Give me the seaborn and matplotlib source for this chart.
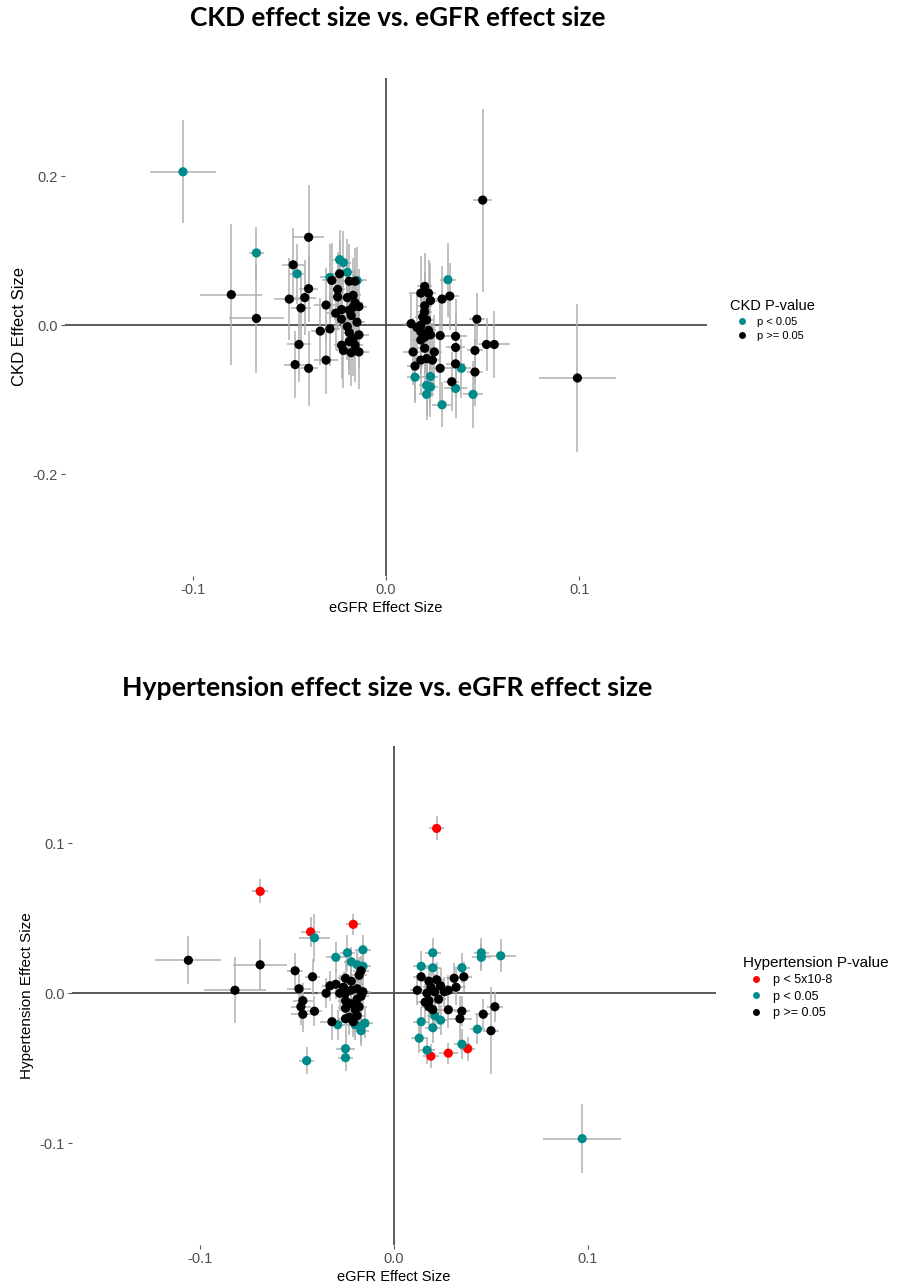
import seaborn as sns
from matplotlib import pyplot as plt
import pandas as pd

# ---- CKD vs eGFR ----
ckd_sig_x = [-0.105, -0.067, -0.046, -0.029, -0.024, -0.022, -0.020, -0.015, 0.032, 0.039,
             0.015, 0.023, 0.021, 0.023, 0.036, 0.021, 0.045, 0.029]
ckd_sig_y = [0.206, 0.097, 0.069, 0.064, 0.088, 0.084, 0.071, 0.060, 0.061, -0.058,
             -0.070, -0.069, -0.081, -0.083, -0.085, -0.093, -0.093, -0.107]
ckd_sig_xerr = [0.017, 0.004, 0.004, 0.005, 0.004, 0.004, 0.004, 0.005, 0.004, 0.005,
                0.004, 0.004, 0.004, 0.004, 0.006, 0.004, 0.005, 0.005]
ckd_sig_yerr = [0.069, 0.035, 0.040, 0.045, 0.040, 0.042, 0.045, 0.045, 0.050, 0.040,
                0.035, 0.040, 0.040, 0.040, 0.040, 0.035, 0.045, 0.030]

ckd_ns_x = [-0.080, -0.067, -0.040, -0.048, -0.040, -0.050, -0.042, -0.044, -0.031, -0.028,
            -0.024, -0.019, -0.016, -0.025, -0.025, -0.020, -0.017, -0.016, -0.014, -0.017,
            -0.023, -0.019, -0.026, -0.023, -0.018, -0.015, -0.034, -0.029, -0.020, -0.019,
            -0.014, -0.017, -0.019, -0.016, -0.023, -0.022, -0.018, -0.014, -0.045, -0.047,
            -0.040, -0.031,
            0.020, 0.018, 0.022, 0.029, 0.033, 0.023, 0.020, 0.020, 0.019, 0.021,
            0.047, 0.013, 0.016, 0.018, 0.022, 0.018, 0.023, 0.020, 0.018, 0.028,
            0.036, 0.036, 0.025, 0.020, 0.014, 0.021, 0.018, 0.024, 0.046, 0.052,
            0.056, 0.036, 0.015, 0.028, 0.046, 0.034, 0.050, 0.099]
ckd_ns_y = [0.041, 0.009, 0.118, 0.081, 0.049, 0.035, 0.037, 0.023, 0.027, 0.060,
            0.069, 0.059, 0.059, 0.048, 0.038, 0.037, 0.040, 0.030, 0.025, 0.024,
            0.021, 0.020, 0.016, 0.008, 0.013, 0.004, -0.008, -0.005, -0.002, -0.010,
            -0.013, -0.018, -0.022, -0.027, -0.027, -0.034, -0.037, -0.036, -0.026, -0.053,
            -0.058, -0.047,
            0.052, 0.043, 0.043, 0.035, 0.039, 0.033, 0.026, 0.018, 0.011, 0.007,
            0.008, 0.002, -0.003, 0.000, -0.007, -0.009, -0.013, -0.016, -0.020, -0.014,
            -0.015, -0.030, -0.036, -0.031, -0.036, -0.045, -0.047, -0.047, -0.034, -0.026,
            -0.026, -0.052, -0.055, -0.058, -0.063, -0.076, 0.168, -0.071]
ckd_ns_xerr = [0.016, 0.014, 0.008, 0.006, 0.005, 0.008, 0.006, 0.005, 0.006, 0.005,
               0.004, 0.005, 0.004, 0.004, 0.004, 0.004, 0.004, 0.004, 0.004, 0.005,
               0.004, 0.004, 0.005, 0.004, 0.004, 0.004, 0.005, 0.005, 0.004, 0.004,
               0.005, 0.004, 0.004, 0.004, 0.004, 0.004, 0.004, 0.005, 0.006, 0.006,
               0.005, 0.006,
               0.004, 0.006, 0.004, 0.005, 0.005, 0.004, 0.004, 0.004, 0.004, 0.004,
               0.004, 0.004, 0.004, 0.004, 0.004, 0.004, 0.004, 0.004, 0.004, 0.005,
               0.006, 0.005, 0.004, 0.004, 0.005, 0.004, 0.004, 0.004, 0.004, 0.004,
               0.008, 0.005, 0.004, 0.006, 0.004, 0.004, 0.005, 0.020]
ckd_ns_yerr = [0.095, 0.073, 0.070, 0.050, 0.045, 0.055, 0.050, 0.050, 0.050, 0.050,
               0.045, 0.050, 0.045, 0.050, 0.045, 0.050, 0.050, 0.045, 0.050, 0.045,
               0.050, 0.045, 0.050, 0.045, 0.050, 0.045, 0.045, 0.050, 0.045, 0.050,
               0.045, 0.050, 0.045, 0.050, 0.045, 0.050, 0.045, 0.050, 0.050, 0.045,
               0.050, 0.045,
               0.045, 0.050, 0.045, 0.045, 0.045, 0.050, 0.045, 0.050, 0.045, 0.050,
               0.035, 0.040, 0.045, 0.050, 0.045, 0.050, 0.045, 0.050, 0.045, 0.045,
               0.050, 0.045, 0.050, 0.045, 0.045, 0.050, 0.045, 0.050, 0.045, 0.035,
               0.045, 0.045, 0.045, 0.050, 0.045, 0.040, 0.123, 0.099]

# ---- Hypertension vs eGFR ----
htn_gw_x = [-0.069, -0.043, -0.021, 0.022, 0.019, 0.028, 0.038]
htn_gw_y = [0.068, 0.041, 0.046, 0.110, -0.042, -0.040, -0.037]
htn_gw_xerr = [0.004, 0.005, 0.004, 0.004, 0.004, 0.005, 0.004]
htn_gw_yerr = [0.008, 0.010, 0.007, 0.008, 0.008, 0.007, 0.008]

htn_sig_x = [-0.041, -0.030, -0.024, -0.016, -0.022, -0.019, -0.016, -0.029, -0.020, -0.017,
             -0.015, -0.017, -0.045, -0.025, -0.025, 0.020, 0.045, 0.045, 0.055, 0.014,
             0.020, 0.035, 0.021, 0.024, 0.014, 0.020, 0.043, 0.013, 0.017, 0.035, 0.097]
htn_sig_y = [0.037, 0.024, 0.027, 0.029, 0.021, 0.019, 0.018, -0.021, -0.021, -0.022,
             -0.020, -0.025, -0.045, -0.037, -0.043, 0.027, 0.027, 0.024, 0.025, 0.018,
             0.017, 0.017, -0.015, -0.018, -0.019, -0.023, -0.024, -0.030, -0.038, -0.034,
             -0.097]
htn_sig_xerr = [0.008, 0.005, 0.004, 0.004, 0.004, 0.004, 0.004, 0.004, 0.004, 0.004,
                0.004, 0.004, 0.004, 0.005, 0.004, 0.004, 0.004, 0.005, 0.008, 0.004,
                0.004, 0.004, 0.004, 0.004, 0.004, 0.004, 0.004, 0.004, 0.004, 0.004, 0.020]
htn_sig_yerr = [0.016, 0.010, 0.012, 0.010, 0.010, 0.010, 0.009, 0.010, 0.010, 0.011,
                0.010, 0.010, 0.009, 0.009, 0.009, 0.010, 0.010, 0.009, 0.011, 0.010,
                0.010, 0.010, 0.010, 0.010, 0.010, 0.010, 0.010, 0.010, 0.009, 0.010, 0.023]

htn_ns_x = [-0.106, -0.082, -0.069, -0.051, -0.042, -0.049, -0.035, -0.047, -0.048, -0.047,
            -0.041, -0.032, -0.033, -0.030, -0.025, -0.022, -0.018, -0.017, -0.025, -0.022,
            -0.019, -0.016, -0.025, -0.022, -0.019, -0.017, -0.025, -0.020, -0.018, -0.023,
            -0.019, -0.025, -0.021, -0.028, -0.026,
            0.036, 0.031, 0.014, 0.032, 0.012, 0.018, 0.022, 0.019, 0.024, 0.017,
            0.021, 0.026, 0.018, 0.023, 0.018, 0.020, 0.016, 0.028, 0.028, 0.035,
            0.034, 0.046, 0.052, 0.050]
htn_ns_y = [0.022, 0.002, 0.019, 0.015, 0.011, 0.003, 0.000, -0.005, -0.009, -0.014,
            -0.012, -0.019, 0.005, 0.006, 0.010, 0.008, 0.012, 0.015, 0.000, 0.002,
            0.003, 0.001, -0.005, -0.007, -0.004, -0.002, -0.010, -0.011, -0.009, -0.016,
            -0.015, -0.017, -0.019, 0.000, 0.004,
            0.011, 0.010, 0.011, 0.004, 0.002, 0.008, 0.009, 0.004, 0.005, 0.000,
            0.001, 0.001, -0.005, -0.004, -0.009, -0.011, -0.006, 0.002, -0.011, -0.012,
            -0.017, -0.014, -0.009, -0.025]
htn_ns_xerr = [0.017, 0.016, 0.014, 0.004, 0.004, 0.006, 0.004, 0.005, 0.005, 0.006,
               0.004, 0.006, 0.004, 0.004, 0.004, 0.004, 0.004, 0.004, 0.004, 0.004,
               0.004, 0.004, 0.004, 0.004, 0.004, 0.004, 0.004, 0.004, 0.004, 0.004,
               0.004, 0.004, 0.004, 0.004, 0.004,
               0.004, 0.004, 0.004, 0.005, 0.004, 0.004, 0.004, 0.004, 0.004, 0.004,
               0.004, 0.004, 0.004, 0.004, 0.004, 0.004, 0.004, 0.004, 0.005, 0.004,
               0.006, 0.004, 0.004, 0.004]
htn_ns_yerr = [0.016, 0.022, 0.017, 0.012, 0.012, 0.010, 0.010, 0.012, 0.012, 0.012,
               0.010, 0.012, 0.010, 0.010, 0.012, 0.010, 0.012, 0.010, 0.010, 0.012,
               0.010, 0.012, 0.010, 0.012, 0.010, 0.012, 0.010, 0.012, 0.010, 0.012,
               0.010, 0.012, 0.010, 0.012, 0.010,
               0.010, 0.010, 0.010, 0.012, 0.010, 0.010, 0.012, 0.010, 0.012, 0.010,
               0.012, 0.010, 0.012, 0.010, 0.012, 0.010, 0.012, 0.010, 0.012, 0.010,
               0.015, 0.010, 0.010, 0.029]


def make_df(groups):
    frames = []
    for label, x, y, xe, ye in groups:
        frames.append(pd.DataFrame({'x': x, 'y': y, 'xerr': xe, 'yerr': ye, 'group': label}))
    return pd.concat(frames, ignore_index=True)


ckd = make_df([('p < 0.05', ckd_sig_x, ckd_sig_y, ckd_sig_xerr, ckd_sig_yerr),
               ('p >= 0.05', ckd_ns_x, ckd_ns_y, ckd_ns_xerr, ckd_ns_yerr)])
htn = make_df([('p < 5x10-8', htn_gw_x, htn_gw_y, htn_gw_xerr, htn_gw_yerr),
               ('p < 0.05', htn_sig_x, htn_sig_y, htn_sig_xerr, htn_sig_yerr),
               ('p >= 0.05', htn_ns_x, htn_ns_y, htn_ns_xerr, htn_ns_yerr)])

palette = {'p < 5x10-8': '#FF0000', 'p < 0.05': '#008B8B', 'p >= 0.05': '#000000'}

sns.set_style('white')
plt.rcParams['font.family'] = ['Liberation Sans', 'DejaVu Sans']
plt.rcParams['axes.unicode_minus'] = False

W, H = 910, 1285
fig = plt.figure(figsize=(W / 100, H / 100), dpi=100)


def px_axes(left, top, right, bottom):
    return fig.add_axes([left / W, 1 - bottom / H, (right - left) / W, (bottom - top) / H])


def panel(ax, df, order, ylabel, ylabel_fs, yticks, ylim, leg_title, leg_xy, leg_fs, title_fs):
    ax.axhline(0, color='#4d4d4d', lw=1.3, zorder=1)
    ax.axvline(0, color='#4d4d4d', lw=1.3, zorder=1)
    ax.errorbar(df['x'], df['y'], xerr=df['xerr'], yerr=df['yerr'], fmt='none',
                ecolor='#b0b0b0', elinewidth=1.1, capsize=0, zorder=2)
    sns.scatterplot(data=df, x='x', y='y', hue='group', hue_order=order, palette=palette,
                    s=44, linewidth=0, ax=ax, zorder=3)
    ax.set_xlim(-0.166, 0.166)
    ax.set_ylim(*ylim)
    ax.set_xticks([-0.1, 0.0, 0.1])
    ax.set_xticklabels(['-0.1', '0.0', '0.1'])
    ax.set_yticks(yticks)
    ax.set_yticklabels([f'{t:.1f}' for t in yticks])
    for s in ax.spines.values():
        s.set_visible(False)
    ax.tick_params(direction='out', length=3, width=0.8, color='#555555',
                   labelcolor='#4d4d4d', labelsize=10.5, pad=2, bottom=True, left=True)
    ax.set_xlabel('eGFR Effect Size', fontsize=10.5, labelpad=3, color='black')
    ax.set_ylabel(ylabel, fontsize=ylabel_fs, labelpad=4, color='black')
    h, l = ax.get_legend_handles_labels()
    leg = ax.legend(h, l, title=leg_title, frameon=False, loc='upper left',
                    bbox_to_anchor=(leg_xy[0] / W, 1 - leg_xy[1] / H),
                    bbox_transform=fig.transFigure,
                    fontsize=leg_fs, title_fontsize=title_fs, markerscale=0.75,
                    handletextpad=0.4, labelspacing=0.35, alignment='left', borderaxespad=0)
    leg.get_title().set_color('black')
    for t in leg.get_texts():
        t.set_color('black')


ax1 = px_axes(65, 78, 707, 576)
panel(ax1, ckd, ['p < 0.05', 'p >= 0.05'], 'CKD Effect Size', 12, [-0.2, 0.0, 0.2],
      (-0.337, 0.332), 'CKD P-value', (726, 295), 8, 10.5)

ax2 = px_axes(72, 746, 716, 1245)
panel(ax2, htn, ['p < 5x10-8', 'p < 0.05', 'p >= 0.05'], 'Hypertension Effect Size', 11,
      [-0.1, 0.0, 0.1], (-0.168, 0.165), 'Hypertension P-value', (738, 951), 9, 11)

fig.text(398 / W, 1 - 18 / H, 'CKD effect size vs. eGFR effect size', ha='center', va='center',
         fontsize=18.8, fontweight='bold', color='black', family=['Lato', 'DejaVu Sans'])
fig.text(387 / W, 1 - 688 / H, 'Hypertension effect size vs. eGFR effect size', ha='center',
         va='center', fontsize=19.2, fontweight='bold', color='black',
         family=['Lato', 'DejaVu Sans'])

fig.savefig('out.png', dpi=100)
